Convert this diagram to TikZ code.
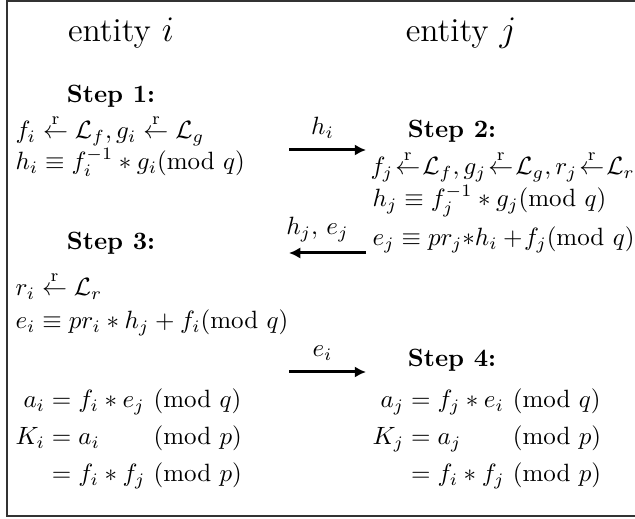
\documentclass[tikz,border=0pt]{standalone}
\usetikzlibrary{arrows.meta}

\begin{document}
\begin{tikzpicture}[x=0.4pt, y=-0.4pt, every node/.style={inner sep=0pt},
  entity/.style={anchor=base, font=\fontsize{13.4}{16}\selectfont},
  steplabel/.style={anchor=base, font=\bfseries},
  eqline/.style={anchor=base west},
  msg/.style={-{Latex[length=4.5pt,width=4.5pt]}, very thick}]
  \useasboundingbox (0,0) rectangle (635,519);
  \draw[thick, black!80] (635,1) -- (7,1) -- (7,516) -- (635,516);

  \node[entity] (enti) at (121,42) {entity $i$};
  \node[entity] (entj) at (461,42) {entity $j$};

  % entity i
  \node[steplabel] (s1) at (111,103) {Step 1:};
  \node[eqline] (s1a) at (15,139) {$f_i \stackrel{\mathrm{r}}{\leftarrow} \mathcal{L}_f, g_i \stackrel{\mathrm{r}}{\leftarrow} \mathcal{L}_g$};
  \node[eqline] (s1b) at (15,170) {$h_i \equiv f_i^{-1} * g_i(\mathrm{mod}\ q)$};

  \node[steplabel] (s3) at (111,250) {Step 3:};
  \node[eqline] (s3a) at (15,296) {$r_i \stackrel{\mathrm{r}}{\leftarrow} \mathcal{L}_r$};
  \node[eqline] (s3b) at (15,329) {$e_i \equiv pr_i * h_j + f_i(\mathrm{mod}\ q)$};

  \node[eqline] (keyi) at (15,445) {$\begin{array}{@{}r@{\;}c@{\;}l@{\ }l@{}}
      a_i & = & f_i * e_j & (\mathrm{mod}\ q)\\[2.8pt]
      K_i & = & a_i & (\mathrm{mod}\ p)\\[2.8pt]
          & = & f_i * f_j & (\mathrm{mod}\ p)
    \end{array}$};

  % entity j
  \node[steplabel] (s2) at (452,138) {Step 2:};
  \node[eqline] (s2a) at (370,175) {$f_j\mkern-3.5mu\stackrel{\mathrm{r}}{\leftarrow}\mkern-3.5mu\mathcal{L}_f, g_j\mkern-3.5mu\stackrel{\mathrm{r}}{\leftarrow}\mkern-3.5mu\mathcal{L}_g, r_j\mkern-3.5mu\stackrel{\mathrm{r}}{\leftarrow}\mkern-3.5mu\mathcal{L}_r$};
  \node[eqline] (s2b) at (372,207) {$h_j \equiv f_j^{-1} * g_j(\mathrm{mod}\ q)$};
  \node[eqline] (s2c) at (372,246) {$e_j \equiv pr_j{*}h_i +\!f_j(\mathrm{mod}\ q)$};

  \node[steplabel] (s4) at (452,367) {Step 4:};
  \node[eqline] (keyj) at (372,445) {$\begin{array}{@{}r@{\;}c@{\;}l@{\ }l@{}}
      a_j & = & f_j * e_i & (\mathrm{mod}\ q)\\[2.8pt]
      K_j & = & a_j & (\mathrm{mod}\ p)\\[2.8pt]
          & = & f_i * f_j & (\mathrm{mod}\ p)
    \end{array}$};

  % messages
  \coordinate (m1s) at (289,150);
  \coordinate (m1e) at (366,150);
  \coordinate (m2s) at (366,253);
  \coordinate (m2e) at (289,253);
  \coordinate (m3s) at (289,372);
  \coordinate (m3e) at (366,372);
  \draw[msg] (m1s) -- node[above=4pt, xshift=-2pt] (l1) {$h_i$} (m1e);
  \draw[msg] (m2s) -- node[above=4pt, xshift=-4pt] (l2) {$h_j,\, e_j$} (m2e);
  \draw[msg] (m3s) -- node[above=4pt, xshift=-2pt] (l3) {$e_i$} (m3e);
\end{tikzpicture}
\end{document}
